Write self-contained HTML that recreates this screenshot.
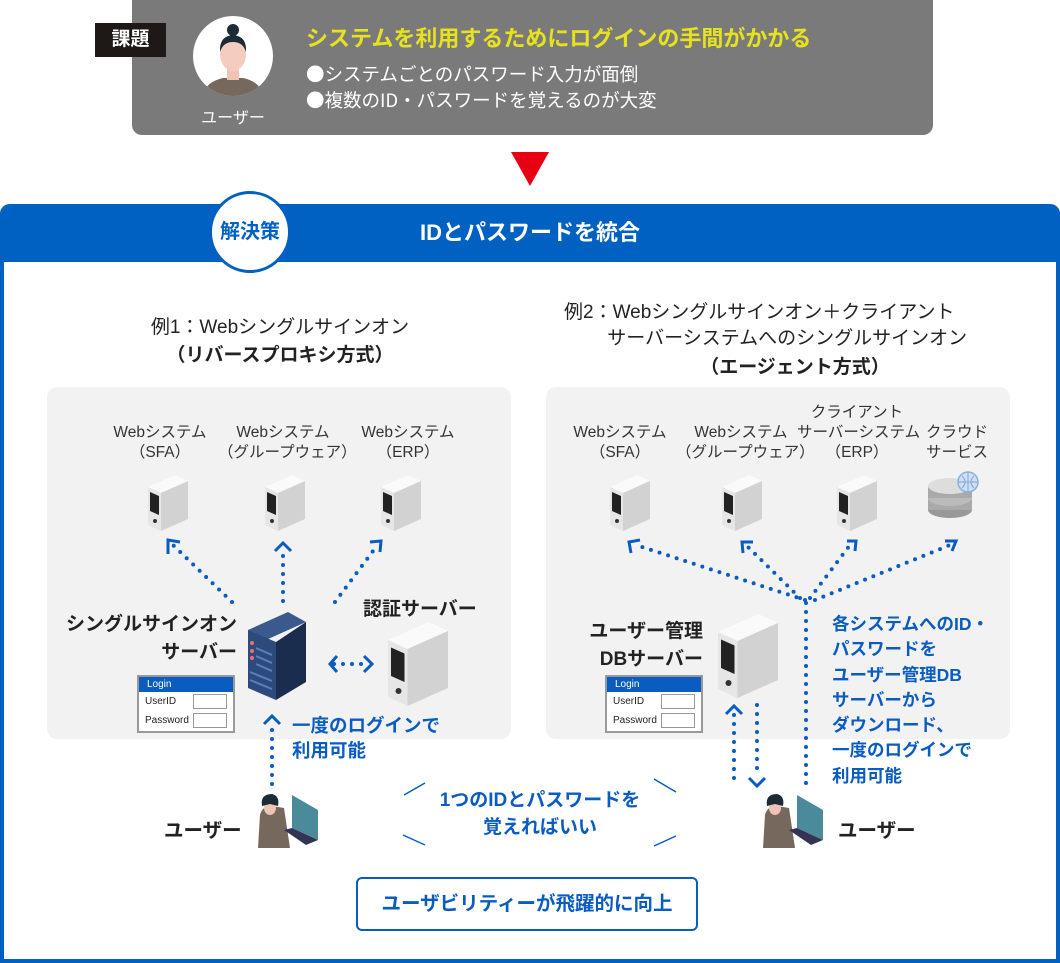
<!DOCTYPE html>
<html><head><meta charset="utf-8"><style>
*{margin:0;padding:0;box-sizing:border-box}
body{width:1060px;height:963px;background:#fff;position:relative;overflow:hidden;font-family:"Liberation Sans","Noto Sans CJK JP",sans-serif;color:#222}
.a{position:absolute}
.c{text-align:center}
.lbl{font-size:15.5px;line-height:20px;color:#333;text-align:center;position:absolute;white-space:nowrap}
.b{font-weight:bold}
.blue{color:#0a5cc0}
.login{position:absolute;width:98px;height:58px;border:2px solid #999;background:#fff}
.login .h{background:#0a5cc0;color:#fff;font-size:10px;height:15px;line-height:15px;padding-left:8px}
.login .r{font-size:10px;height:19px;line-height:19px;padding-left:6px;position:relative}
.login .r i{position:absolute;right:6px;top:2px;width:34px;height:15px;border:1px solid #999}
</style></head><body>
<div class="a" style="left:132px;top:0;width:801px;height:135px;background:#7a7a7a;border-radius:0 0 10px 10px"></div>
<div class="a b c" style="left:95px;top:23px;width:71px;height:34px;background:#1e1916;color:#fff;font-size:19px;line-height:34px">課題</div>
<div class="a" style="left:193px;top:16px;width:80px;height:80px;border-radius:50%;background:#fff;overflow:hidden">
<svg width="80" height="80"><path d="M10 80 Q12 66 30 62 L50 62 Q68 66 70 80Z" fill="#76685c"/><rect x="34" y="48" width="12" height="16" fill="#f0c4b4"/><ellipse cx="40" cy="38" rx="13" ry="17" fill="#f4cdbf"/><path d="M27 36 Q26 20 40 19 Q54 20 53 36 Q50 26 40 26 Q30 26 27 36Z" fill="#1c2b36"/><circle cx="40" cy="14" r="6" fill="#1c2b36"/></svg></div>
<div class="a c" style="left:190px;top:104px;width:86px;color:#fff;font-size:16px">ユーザー</div>
<div class="a b" style="left:306px;top:21px;color:#e6e21e;font-size:22px;white-space:nowrap">システムを利用するためにログインの手間がかかる</div>
<div class="a" style="left:306px;top:61px;color:#fff;font-size:18.5px;line-height:26px;font-family:'Noto Sans CJK JP',sans-serif;white-space:nowrap">●システムごとのパスワード入力が面倒<br>●複数のID・パスワードを覚えるのが大変</div>
<svg class="a" style="left:511px;top:152px" width="38" height="34"><polygon points="0,0 38,0 19,34" fill="#e60012"/></svg>
<div class="a" style="left:0;top:204px;width:1060px;height:759px;border:4px solid #0061c3;border-top:none;border-radius:10px 10px 0 0"></div>
<div class="a" style="left:0;top:204px;width:1060px;height:58px;background:#0061c3;border-radius:10px 10px 0 0"></div>
<div class="a b c" style="left:0;top:218px;width:1060px;color:#fff;font-size:22px;line-height:30px">IDとパスワードを統合</div>
<div class="a b c" style="left:209px;top:191px;width:82px;height:82px;border-radius:50%;background:#fff;border:3px solid #0061c3;color:#0061c3;font-size:20px;line-height:76px">解決策</div>
<div class="a c" style="left:40px;top:314px;width:480px;font-size:19px;line-height:28px;white-space:nowrap">例1：Webシングルサインオン<br><b>（リバースプロキシ方式）</b></div>
<div class="a" style="left:564px;top:300px;width:480px;font-size:19px;line-height:26px;white-space:nowrap">例2：Webシングルサインオン＋クライアント<br>　　 サーバーシステムへのシングルサインオン</div>
<div class="a b c" style="left:680px;top:352px;width:230px;font-size:19px;white-space:nowrap">（エージェント方式）</div>
<div class="a" style="left:47px;top:387px;width:464px;height:352px;background:#f2f2f2;border-radius:10px"></div>
<div class="a" style="left:546px;top:387px;width:464px;height:352px;background:#f2f2f2;border-radius:10px"></div>
<div class="lbl" style="left:100px;top:423px;width:120px">Webシステム<br>（SFA）</div>
<div class="lbl" style="left:218px;top:423px;width:130px">Webシステム<br>（グループウェア）</div>
<div class="lbl" style="left:348px;top:423px;width:120px">Webシステム<br>（ERP）</div>
<div class="lbl" style="left:560px;top:423px;width:120px">Webシステム<br>（SFA）</div>
<div class="lbl" style="left:676px;top:423px;width:130px">Webシステム<br>（グループウェア）</div>
<div class="lbl" style="left:797px;top:403px;width:120px">クライアント<br>サーバーシステム<br>（ERP）</div>
<div class="lbl" style="left:912px;top:423px;width:90px">クラウド<br>サービス</div>
<svg class="a" style="left:0;top:0" width="1060" height="963">
<defs>
<g id="sv"><polygon points="0,12 27,0 40,6 13,18" fill="#fafafa"/><polygon points="13,18 40,6 40,44 13,56" fill="#d2d2d2"/><polygon points="0,12 13,18 13,56 0,50" fill="#e6e6e6"/><polygon points="2,17 11,21 11,40 2,36" fill="#222"/><circle cx="7" cy="46" r="2" fill="#333"/></g>
</defs>
<use href="#sv" x="148" y="475"/><use href="#sv" x="265" y="475"/><use href="#sv" x="381" y="475"/>
<use href="#sv" x="610" y="475"/><use href="#sv" x="722" y="475"/><use href="#sv" x="837" y="475"/>
<g transform="translate(388,622) scale(1.5)"><use href="#sv"/></g>
<g transform="translate(718,614) scale(1.5)"><use href="#sv"/></g>
<polygon points="248,630 288,612 306,622 266,640" fill="#3a5a8e"/><polygon points="248,630 276,642 276,700 248,688" fill="#2c4a7c"/><polygon points="276,642 306,622 306,682 276,700" fill="#1a2d4e"/>
<g fill="#e87070"><circle cx="252" cy="643" r="2"/><circle cx="252" cy="651" r="2"/><circle cx="252" cy="658" r="2"/></g>
<g stroke="#5a80b8" stroke-width="2"><line x1="256" y1="648" x2="272" y2="655"/><line x1="256" y1="656" x2="272" y2="663"/><line x1="256" y1="664" x2="272" y2="671"/><line x1="250" y1="672" x2="272" y2="681"/><line x1="250" y1="680" x2="272" y2="689"/></g>
<g><ellipse cx="950" cy="510" rx="22" ry="8" fill="#999"/><rect x="928" y="498" width="44" height="12" fill="#aaa"/><ellipse cx="950" cy="498" rx="22" ry="8" fill="#bbb"/><rect x="928" y="486" width="44" height="12" fill="#aaa"/><ellipse cx="950" cy="486" rx="22" ry="8" fill="#ddd"/><circle cx="968" cy="482" r="10" fill="#cfe0f4" stroke="#8ab0dc" stroke-width="1.5"/><path d="M958 482h20M968 472v20M962 476q6 6 0 12M974 476q-6 6 0 12" stroke="#8ab0dc" fill="none" stroke-width="1.2"/></g>
<g stroke="#0a5cc0" stroke-width="4" stroke-linecap="round" stroke-dasharray="0 9" fill="none">
<line x1="232" y1="602" x2="173" y2="545"/><line x1="283" y1="601" x2="283" y2="552"/><line x1="335" y1="602" x2="376" y2="547"/>
<line x1="334" y1="664" x2="370" y2="664"/><line x1="272" y1="784" x2="272" y2="725"/>
<line x1="805" y1="600" x2="636" y2="545"/><line x1="800" y1="598" x2="746" y2="545"/><line x1="810" y1="598" x2="850" y2="545"/><line x1="815" y1="600" x2="950" y2="545"/>
<line x1="806" y1="603" x2="806" y2="785"/><line x1="734" y1="715" x2="734" y2="785"/><line x1="757" y1="705" x2="757" y2="772"/>
</g>
<g stroke="#0a5cc0" stroke-width="3" fill="none">
<polyline points="168,554 168,540 180,542"/><polyline points="275,551 283,543 291,551"/><polyline points="370,542 381,541 380,552"/>
<polyline points="337,656 330,664 337,672"/><polyline points="364,656 372,664 364,672"/><polyline points="264,724 272,716 280,724"/>
<polyline points="631,553 629,542 640,540"/><polyline points="743,553 742,542 753,542"/><polyline points="847,541 856,541 855,551"/><polyline points="945,541 956,541 952,551"/>
<polyline points="726,714 734,706 742,714"/><polyline points="749,778 757,786 765,778"/>
</g>
<g stroke="#0a5cc0" stroke-width="1.5"><line x1="404" y1="795" x2="425" y2="783"/><line x1="403" y1="835" x2="425" y2="845"/><line x1="654" y1="779" x2="676" y2="792"/><line x1="654" y1="846" x2="676" y2="836"/></g>
<g id="u"><path d="M258 848 L260 815 Q262 806 272 806 L284 808 L290 848Z" fill="#76685c"/><ellipse cx="270" cy="808" rx="6" ry="7" fill="#f0c4b4"/><path d="M262 806 Q260 794 272 794 Q280 796 278 806 L270 804Z" fill="#1c2b36"/><polygon points="292,795 318,810 318,840 292,828" fill="#4a8a9a"/><polygon points="284,830 292,828 318,840 306,845" fill="#335"/></g>
<use href="#u" x="505" y="0"/>
</svg>
<div class="a b" style="left:40px;top:611px;width:197px;text-align:right;font-size:19px;line-height:28px;white-space:nowrap">シングルサインオン<br>サーバー</div>
<div class="a b" style="left:363px;top:594px;font-size:19px;white-space:nowrap">認証サーバー</div>
<div class="a b" style="left:555px;top:618px;width:148px;text-align:right;font-size:19px;line-height:28px;white-space:nowrap">ユーザー管理<br>DBサーバー</div>
<div class="login" style="left:137px;top:675px"><div class="h">Login</div><div class="r">UserID<i></i></div><div class="r">Password<i></i></div></div>
<div class="login" style="left:605px;top:675px"><div class="h">Login</div><div class="r">UserID<i></i></div><div class="r">Password<i></i></div></div>
<div class="a b blue" style="left:292px;top:713px;font-size:18.5px;line-height:25px;white-space:nowrap">一度のログインで<br>利用可能</div>
<div class="a b blue" style="left:832px;top:612px;font-size:17.5px;line-height:25.3px;white-space:nowrap">各システムへのID・<br>パスワードを<br>ユーザー管理DB<br>サーバーから<br>ダウンロード、<br>一度のログインで<br>利用可能</div>
<div class="a b blue c" style="left:390px;top:787px;width:300px;font-size:19px;line-height:27px;white-space:nowrap">1つのIDとパスワードを<br>覚えればいい</div>
<div class="a b" style="left:164px;top:814px;font-size:19.5px">ユーザー</div>
<div class="a b" style="left:838px;top:814px;font-size:19.5px">ユーザー</div>
<div class="a b blue c" style="left:356px;top:877px;width:342px;height:54px;border:2px solid #0a5cc0;border-radius:6px;font-size:19.5px;line-height:50px;white-space:nowrap">ユーザビリティーが飛躍的に向上</div>
</body></html>
